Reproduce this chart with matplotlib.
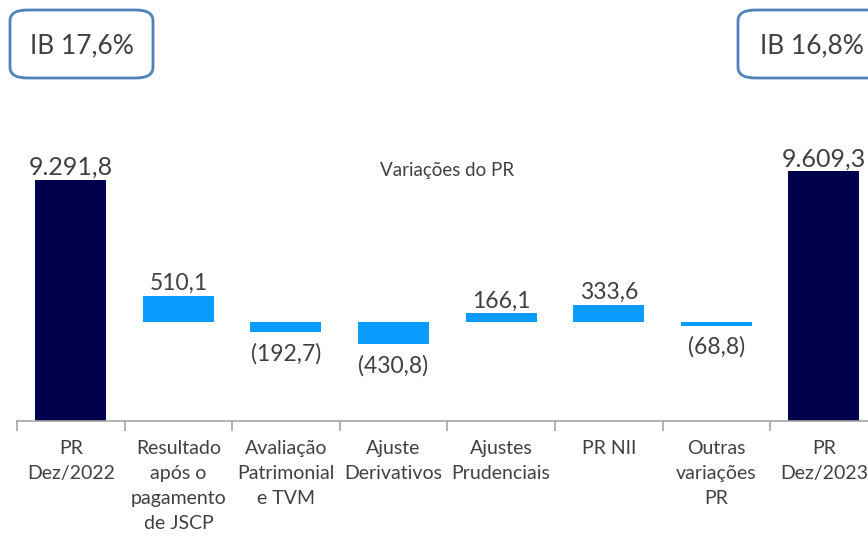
import numpy as np
import matplotlib.pyplot as plt
from matplotlib.patches import FancyBboxPatch

# Data
categories = ['PR\nDez/2022', 'Resultado\napós o\npagamento\nde JSCP', 'Avaliação\nPatrimonial\ne TVM',
              'Ajuste\nDerivativos', 'Ajustes\nPrudenciais', 'PR NII', 'Outras\nvariações\nPR', 'PR\nDez/2023']
pr_start = 9291.8
pr_end = 9609.3
variations = [510.1, -192.7, -430.8, 166.1, 333.6, -68.8]
ib_labels = ['IB 17,6%', 'IB 16,8%']


def fmt(v):
    s = '{:,.1f}'.format(abs(v)).replace(',', 'X').replace('.', ',').replace('X', '.')
    return '(' + s + ')' if v < 0 else s


plt.rcParams['font.family'] = ['Lato', 'DejaVu Sans']
text_col = '#404040'
navy = '#00004d'
light = '#0a9dff'

fig = plt.figure(figsize=(8.68, 5.37), dpi=100)
ax = fig.add_axes([17 / 868, 116 / 537, 851 / 868, 421 / 537])
ax.set_xlim(-0.5, 7.41)
ax.set_ylim(0, 16200)

w = 0.66
# total bars
for xi, v in [(0, pr_start), (7, pr_end)]:
    ax.bar(xi, v, width=w, color=navy)
    ax.text(xi, v + 40, fmt(v), ha='center', va='bottom', fontsize=18, color=text_col)

# variation bars drawn around a floating baseline (scaled x2)
base = 3808
scale = 2.0
for i, v in enumerate(variations):
    xi = i + 1
    h = v * scale
    ax.bar(xi, h, bottom=base, width=w, color=light)
    if v >= 0:
        ax.text(xi, base + h + 60, fmt(v), ha='center', va='bottom', fontsize=16.5, color=text_col)
    else:
        ax.text(xi, base + h - 420, fmt(v), ha='center', va='top', fontsize=16.5, color=text_col)

ax.text(3.5, 9650, 'Variações do PR', ha='center', va='center', fontsize=13.5, color=text_col)

# axis styling
for s in ['top', 'right', 'left']:
    ax.spines[s].set_visible(False)
ax.spines['bottom'].set_color('#a6a6a6')
ax.spines['bottom'].set_linewidth(1.2)
ax.set_yticks([])
ax.set_xticks(np.arange(-0.5, 7.5, 1))
ax.set_xticklabels([])
ax.tick_params(axis='x', length=7, color='#a6a6a6', width=1.2)
for i, c in enumerate(categories):
    ax.text(i, -750, c, ha='center', va='top', fontsize=14, color=text_col, linespacing=1.55)

# IB boxes
for (x0, x1), lbl, tx in [((10, 153), ib_labels[0], 82), ((738, 900), ib_labels[1], 812)]:
    box = FancyBboxPatch((x0 / 868, 1 - 78 / 537), (x1 - x0) / 868, 68 / 537,
                         boxstyle='round,pad=0,rounding_size=0.02', transform=fig.transFigure,
                         facecolor='white', edgecolor='#4f81bd', linewidth=2, clip_on=False)
    fig.add_artist(box)
    fig.text(tx / 868, 1 - 46 / 537, lbl, ha='center', va='center', fontsize=19, color=text_col)

fig.savefig('out.png', dpi=100)
